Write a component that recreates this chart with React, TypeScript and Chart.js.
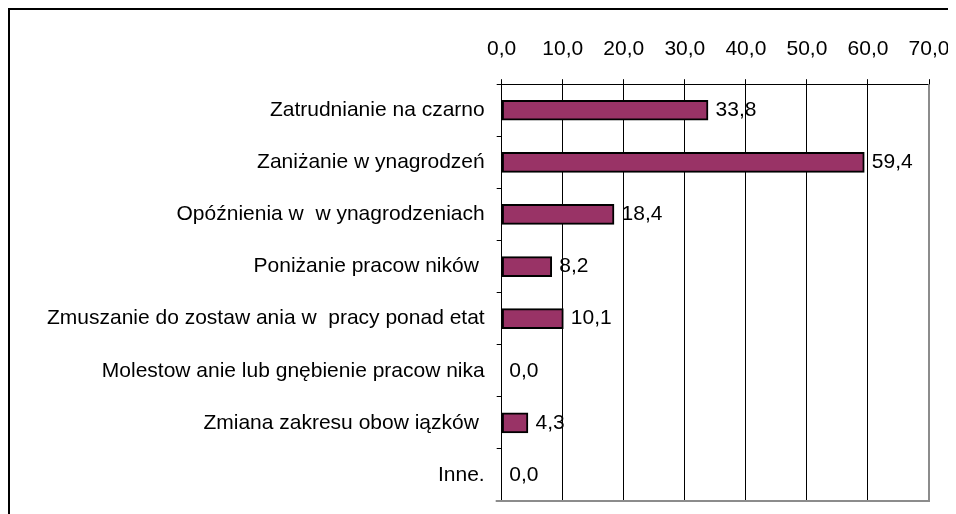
import React, { useEffect, useRef } from "react";
import { Chart, registerables } from "chart.js";

Chart.register(...registerables);

const categories = [
  "Zatrudnianie na czarno",
  "Zaniżanie w ynagrodzeń",
  "Opóźnienia w  w ynagrodzeniach",
  "Poniżanie pracow ników ",
  "Zmuszanie do zostaw ania w  pracy ponad etat",
  "Molestow anie lub gnębienie pracow nika",
  "Zmiana zakresu obow iązków ",
  "Inne.",
];
const values = [33.8, 59.4, 18.4, 8.2, 10.1, 0.0, 4.3, 0.0];
const xTickLabels = ["0,0", "10,0", "20,0", "30,0", "40,0", "50,0", "60,0", "70,0"];

const FONT = "'Liberation Sans', Arial, sans-serif";
const FONT_SIZE = 21;

const fmt = (v: number) => v.toFixed(1).replace(".", ",");

const valueLabels = {
  id: "valueLabels",
  afterDatasetsDraw(chart: any) {
    const ctx = chart.ctx;
    const meta = chart.getDatasetMeta(0);
    ctx.save();
    ctx.font = `${FONT_SIZE}px ${FONT}`;
    ctx.fillStyle = "#000";
    ctx.textAlign = "left";
    ctx.textBaseline = "middle";
    meta.data.forEach((el: any, i: number) => {
      const v = chart.data.datasets[0].data[i] as number;
      ctx.fillText(fmt(v), el.x + 7.5, el.y);
    });
    ctx.restore();
  },
};

const plotFrame = {
  id: "plotFrame",
  afterDraw(chart: any) {
    const { ctx, chartArea } = chart;
    ctx.save();
    ctx.strokeStyle = "#8c8c8c";
    ctx.lineWidth = 2;
    ctx.beginPath();
    ctx.moveTo(chartArea.right, chartArea.top);
    ctx.lineTo(chartArea.right, chartArea.bottom);
    ctx.lineTo(chartArea.left - 6, chartArea.bottom);
    ctx.stroke();
    ctx.restore();
  },
};

export default function App() {
  const ref = useRef<HTMLCanvasElement | null>(null);

  useEffect(() => {
    document.documentElement.style.overflow = "hidden";
    document.body.style.overflow = "hidden";
    if (!ref.current) return;
    const chart = new Chart(ref.current, {
      type: "bar",
      data: {
        labels: categories,
        datasets: [
          {
            data: values,
            backgroundColor: "#993366",
            borderColor: "#000000",
            borderWidth: 2,
            borderSkipped: false,
            barThickness: 20,
          },
        ],
      },
      options: {
        indexAxis: "y",
        animation: false,
        responsive: true,
        maintainAspectRatio: false,
        layout: { padding: { top: 10, right: 27, bottom: 13, left: 0 } },
        plugins: {
          legend: { display: false },
          tooltip: { enabled: false },
        },
        scales: {
          x: {
            position: "top",
            min: 0,
            max: 70,
            afterFit: (s: any) => {
              s.paddingLeft = 0;
              s.paddingRight = 0;
            },
            ticks: {
              stepSize: 10,
              padding: 17,
              color: "#000",
              font: { family: FONT, size: FONT_SIZE },
              callback: (_v: any, i: number) => xTickLabels[i],
            },
            grid: {
              color: (c: any) => (c.index === 7 ? "#8c8c8c" : "#000"),
              tickColor: "#000",
              tickLength: 5,
              lineWidth: 1,
            },
            border: { display: true, color: "#000", width: 1 },
          },
          y: {
            afterFit: (s: any) => {
              s.width = 491.7;
              s.paddingTop = 0;
              s.paddingBottom = 0;
            },
            ticks: {
              padding: 12,
              color: "#000",
              font: { family: FONT, size: FONT_SIZE },
            },
            grid: {
              offset: true,
              drawOnChartArea: false,
              drawTicks: true,
              tickLength: 5,
              color: "#000",
            },
            border: { display: true, color: "#000", width: 1 },
          },
        },
      },
      plugins: [valueLabels, plotFrame],
    });
    return () => chart.destroy();
  }, []);

  return (
    <div
      style={{
        width: 948,
        height: 506,
        borderTop: "2px solid #000",
        borderLeft: "2px solid #000",
        boxSizing: "border-box",
      }}
    >
      <div style={{ position: "relative", width: 946, height: 504 }}>
        <canvas ref={ref} />
      </div>
    </div>
  );
}
